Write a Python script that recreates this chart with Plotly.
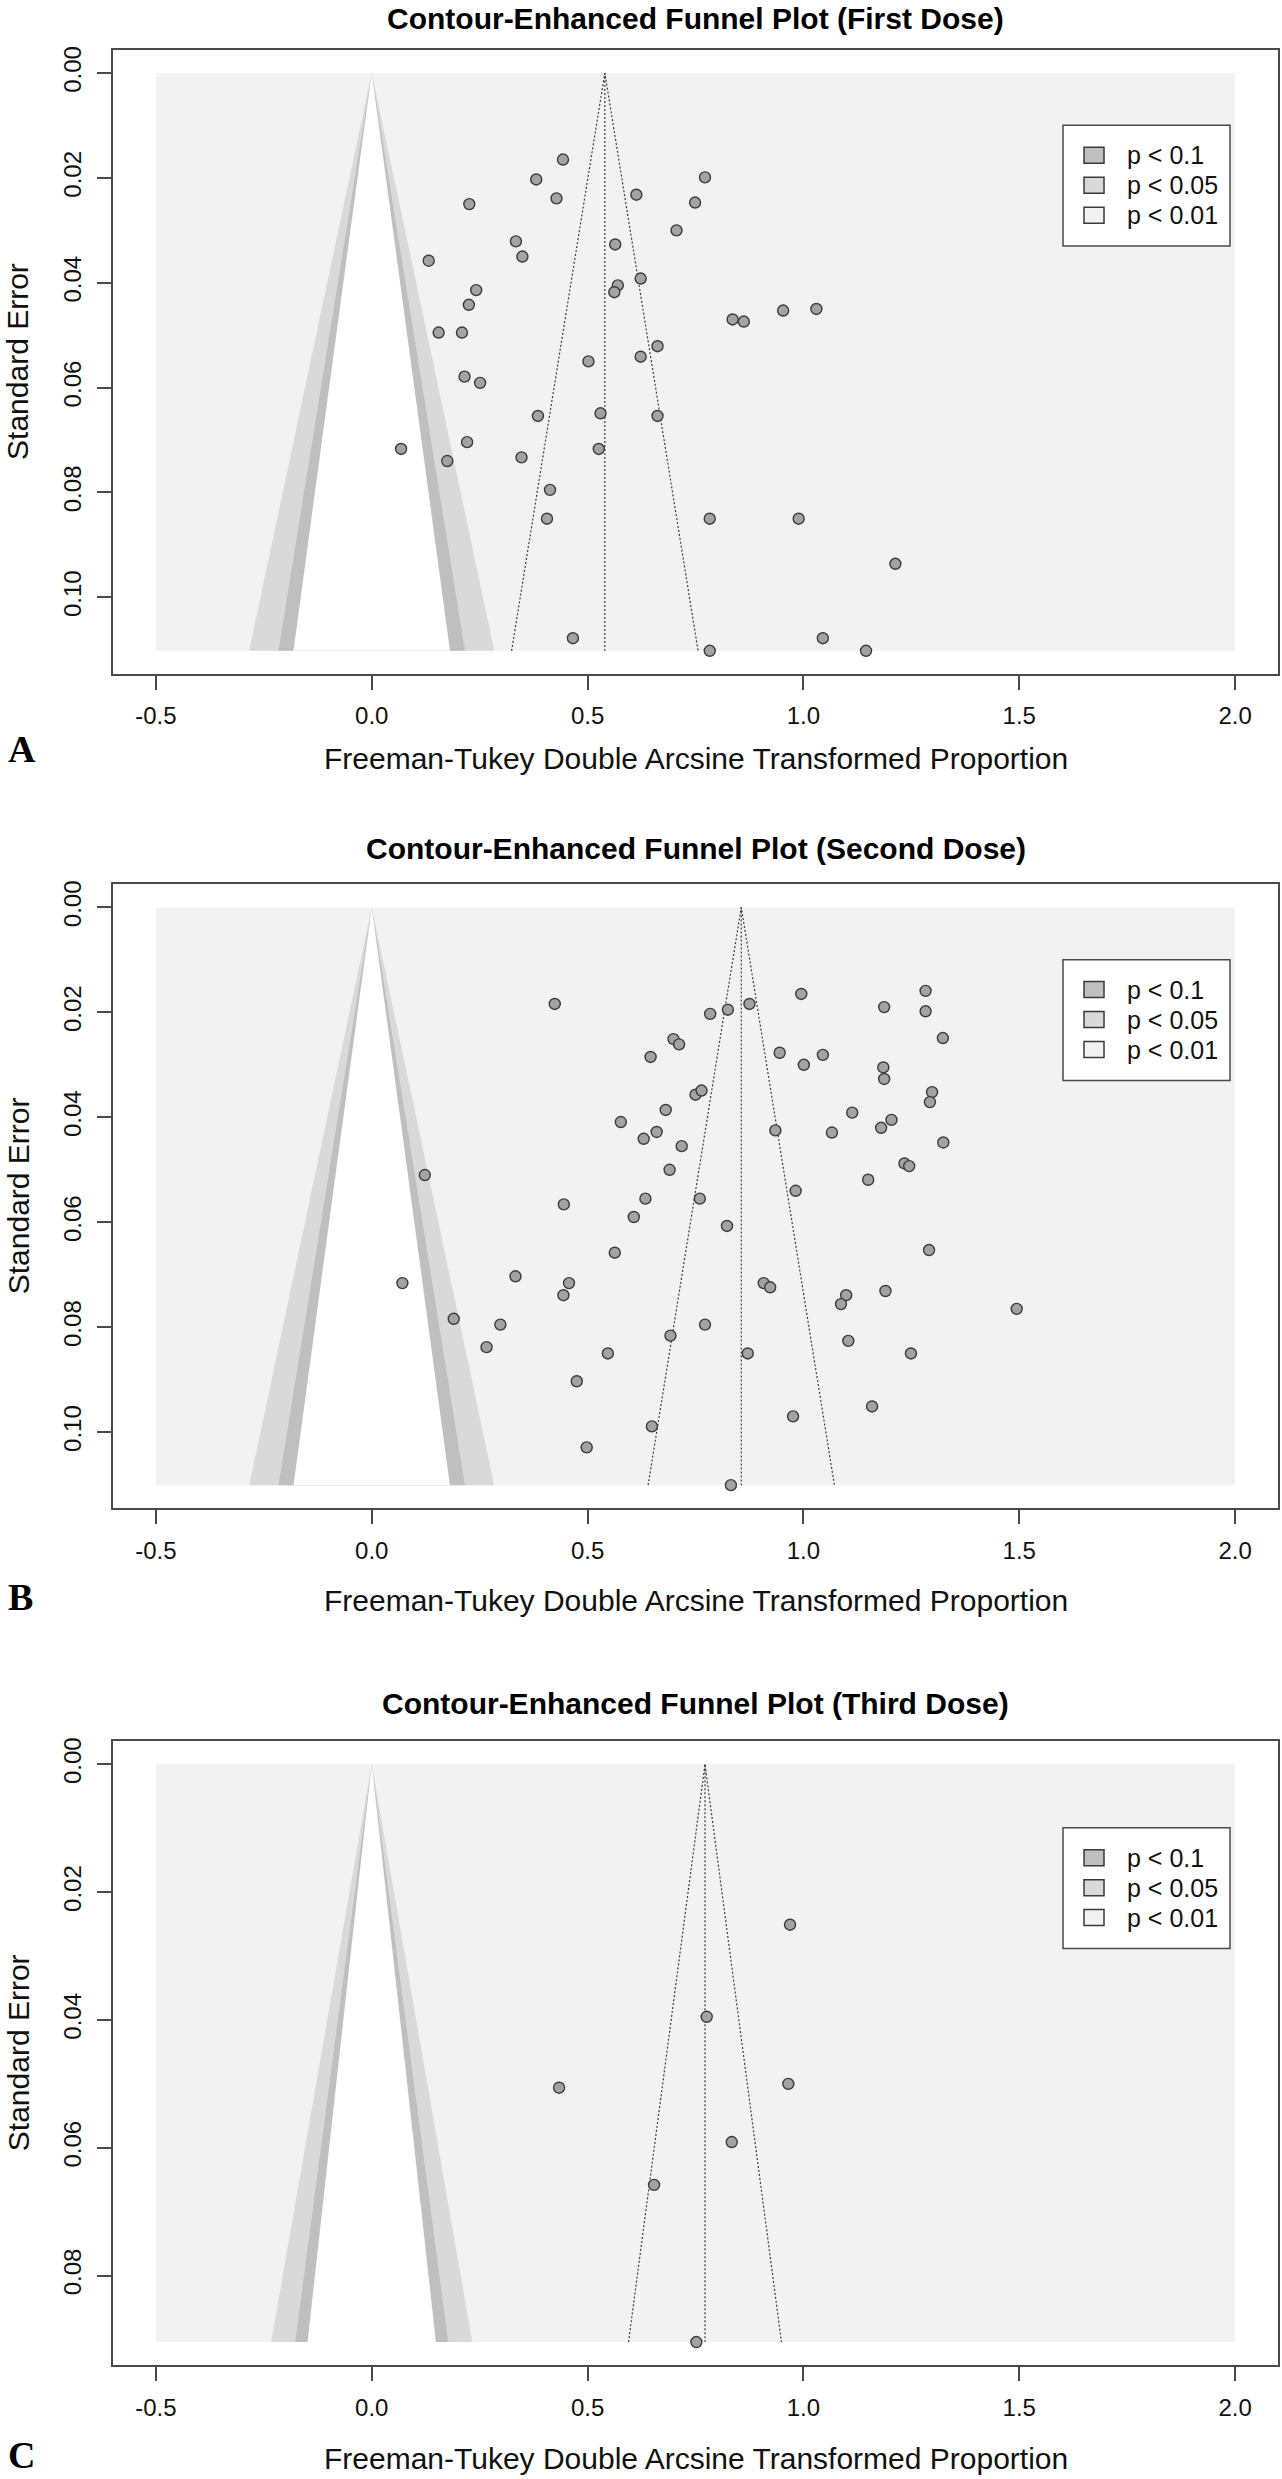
import plotly.graph_objects as go
from statistics import NormalDist

# ---------------- data ----------------
titles = ["Contour-Enhanced Funnel Plot (First Dose)",
          "Contour-Enhanced Funnel Plot (Second Dose)",
          "Contour-Enhanced Funnel Plot (Third Dose)"]
panel_letters = ["A", "B", "C"]
x_title = "Freeman-Tukey Double Arcsine Transformed Proportion"
y_title = "Standard Error"

# First dose
x_a = [0.443, 0.381, 0.772, 0.428, 0.613, 0.749, 0.226, 0.706, 0.334, 0.564,
       0.349, 0.132, 0.623, 0.570, 0.562, 0.242, 0.225, 0.953, 1.030, 0.836,
       0.862, 0.155, 0.209, 0.662, 0.502, 0.623, 0.215, 0.251, 0.385, 0.530,
       0.662, 0.068, 0.221, 0.526, 0.175, 0.347, 0.413, 0.406, 0.783, 0.989,
       1.213, 0.466, 1.045, 0.783, 1.145]
se_a = [0.0165, 0.0203, 0.0199, 0.0239, 0.0232, 0.0247, 0.0250, 0.0300, 0.0321, 0.0327,
        0.0350, 0.0358, 0.0392, 0.0405, 0.0418, 0.0414, 0.0442, 0.0453, 0.0450, 0.0470,
        0.0474, 0.0495, 0.0495, 0.0521, 0.0550, 0.0541, 0.0579, 0.0591, 0.0654, 0.0649,
        0.0654, 0.0717, 0.0704, 0.0717, 0.0740, 0.0733, 0.0795, 0.0850, 0.0850, 0.0850,
        0.0936, 0.1078, 0.1078, 0.1102, 0.1102]
te_a = 0.540

# Second dose
x_b = [0.424, 0.123, 0.445, 0.995, 0.875, 0.825, 0.784, 0.699, 0.712, 0.646,
       0.945, 1.001, 1.045, 0.750, 0.764, 0.681, 0.577, 0.660, 0.630, 0.718,
       0.935, 1.113, 1.066, 1.150, 0.690, 0.982, 0.634, 0.760,
       1.283, 1.187, 1.283, 1.323, 1.185, 1.187, 1.298, 1.293, 1.204, 1.180,
       1.324, 1.234, 1.245,
       0.607, 0.823, 0.563, 0.071, 0.333, 0.457, 0.444, 0.908, 0.923, 1.099,
       1.087, 0.190, 0.298, 0.772, 0.692, 1.104, 0.266, 0.547, 0.871, 0.475,
       0.976, 0.649, 0.498, 0.832, 1.159,
       1.291, 1.190, 1.494, 1.249]
se_b = [0.0184, 0.0510, 0.0566, 0.0165, 0.0184, 0.0195, 0.0203, 0.0251, 0.0261, 0.0285,
        0.0277, 0.0300, 0.0281, 0.0357, 0.0349, 0.0386, 0.0409, 0.0428, 0.0441, 0.0455,
        0.0425, 0.0391, 0.0429, 0.0519, 0.0500, 0.0540, 0.0555, 0.0555,
        0.0159, 0.0190, 0.0198, 0.0249, 0.0305, 0.0327, 0.0352, 0.0371, 0.0405, 0.0420,
        0.0448, 0.0488, 0.0493,
        0.0590, 0.0607, 0.0658, 0.0716, 0.0703, 0.0716, 0.0739, 0.0716, 0.0724, 0.0739,
        0.0756, 0.0784, 0.0795, 0.0795, 0.0816, 0.0826, 0.0838, 0.0850, 0.0850, 0.0903,
        0.0970, 0.0989, 0.1029, 0.1101, 0.0951,
        0.0653, 0.0731, 0.0765, 0.0850]
te_b = 0.856

# Third dose
x_c = [0.969, 0.776, 0.965, 0.834, 0.654, 0.434, 0.752]
se_c = [0.0251, 0.0395, 0.0500, 0.0591, 0.0658, 0.0506, 0.0904]
te_c = 0.772

x_ticks = [-0.5, 0.0, 0.5, 1.0, 1.5, 2.0]
x_ticklabels = ["-0.5", "0.0", "0.5", "1.0", "1.5", "2.0"]
y_ticks_ab = [0.00, 0.02, 0.04, 0.06, 0.08, 0.10]
y_ticklabels_ab = ["0.00", "0.02", "0.04", "0.06", "0.08", "0.10"]
y_ticks_c = [0.00, 0.02, 0.04, 0.06, 0.08]
y_ticklabels_c = ["0.00", "0.02", "0.04", "0.06", "0.08"]
x_limits = [-0.5, 2.0]

contour_levels = [0.90, 0.95, 0.99]
legend_labels = ["p < 0.1", "p < 0.05", "p < 0.01"]

# ---------------- style / layout ----------------
W, H = 1282, 2479
contour_colors = ["#bfbfbf", "#d9d9d9", "#f2f2f2"]
point_fill = "#a3a3a3"
dark = "#3a3a3a"
axis_col = "#4a4a4a"
FONT = "Liberation Sans, Arial, Helvetica, sans-serif"

box_left, box_right = 112.7, 1278.3
box_tops = [46.0, 881.7, 1740.0]
box_bottoms = [671.0, 1506.7, 2365.0]
title_y = [15.0, 846.0, 1702.0]
xlab_y = [756.0, 1599.0, 2458.0]
letter_y = [746.0, 1596.0, 2455.0]
legend_offset = [75.5, 75.5, 86.7]


def px(x):
    return x / W


def py(y):
    return 1 - y / H


panels = [
    (x_a, se_a, te_a, y_ticks_ab, y_ticklabels_ab),
    (x_b, se_b, te_b, y_ticks_ab, y_ticklabels_ab),
    (x_c, se_c, te_c, y_ticks_c, y_ticklabels_c),
]

z_vals = [NormalDist().inv_cdf(1 - (1 - lv) / 2) for lv in contour_levels]

fig = go.Figure()
shapes = []
annotations = []
layout_axes = {}

for i, (xs, ses, te, yt, ytl) in enumerate(panels):
    sfx = "" if i == 0 else str(i + 1)
    xa, ya = "x" + sfx, "y" + sfx
    semax = max(ses)

    # outermost background (p < 0.01 region)
    fig.add_trace(go.Scatter(
        x=[x_limits[0], x_limits[1], x_limits[1], x_limits[0], x_limits[0]],
        y=[0, 0, semax, semax, 0], fill="toself", fillcolor=contour_colors[2],
        mode="lines", line=dict(width=0), hoverinfo="skip", showlegend=False,
        xaxis=xa, yaxis=ya))
    # contour wedges, widest first
    wedge_fills = [contour_colors[1], contour_colors[0], "#ffffff"]
    for z, col in zip(sorted(z_vals, reverse=True), wedge_fills):
        fig.add_trace(go.Scatter(
            x=[-z * semax, 0, z * semax, -z * semax], y=[semax, 0, semax, semax],
            fill="toself", fillcolor=col, mode="lines", line=dict(width=0),
            hoverinfo="skip", showlegend=False, xaxis=xa, yaxis=ya))

    # pseudo confidence funnel and pooled estimate line
    z95 = NormalDist().inv_cdf(0.975)
    fig.add_trace(go.Scatter(
        x=[te - z95 * semax, te, te + z95 * semax], y=[semax, 0, semax],
        mode="lines", line=dict(color=dark, width=1.2, dash="2px,2px"),
        hoverinfo="skip", showlegend=False, xaxis=xa, yaxis=ya))
    fig.add_trace(go.Scatter(
        x=[te, te], y=[0, semax],
        mode="lines", line=dict(color=dark, width=1.2, dash="2px,2px"),
        hoverinfo="skip", showlegend=False, xaxis=xa, yaxis=ya))

    # studies
    fig.add_trace(go.Scatter(
        x=xs, y=ses, mode="markers",
        marker=dict(size=11, color=point_fill, line=dict(color=dark, width=1.4)),
        showlegend=False, xaxis=xa, yaxis=ya))

    top, bot = box_tops[i], box_bottoms[i]
    layout_axes["xaxis" + sfx] = dict(
        domain=[px(box_left), px(box_right)], anchor=ya,
        range=[x_limits[0] - 0.04 * (x_limits[1] - x_limits[0]),
               x_limits[1] + 0.04 * (x_limits[1] - x_limits[0])],
        tickmode="array", tickvals=x_ticks, ticktext=x_ticklabels,
        ticks="outside", ticklen=14, tickwidth=1.5, tickcolor=axis_col,
        showline=True, linecolor=axis_col, linewidth=1.5, mirror=True,
        showgrid=False, zeroline=False,
        tickfont=dict(family=FONT, size=24, color="#111111"),
        ticklabelstandoff=6)
    layout_axes["yaxis" + sfx] = dict(
        domain=[py(bot), py(top)], anchor=xa,
        range=[semax * 1.04, -semax * 0.04],
        tickmode="array", tickvals=yt, ticktext=ytl, tickangle=-90,
        ticks="outside", ticklen=14, tickwidth=1.5, tickcolor=axis_col,
        showline=True, linecolor=axis_col, linewidth=1.5, mirror=True,
        showgrid=False, zeroline=False,
        tickfont=dict(family=FONT, size=24, color="#111111"),
        ticklabelstandoff=6)

    cx = (box_left + box_right) / 2
    annotations.append(dict(text="<b>" + titles[i] + "</b>", x=px(cx), y=py(title_y[i]),
                            xref="paper", yref="paper", xanchor="center", yanchor="middle",
                            showarrow=False, font=dict(family=FONT, size=30, color="#000000")))
    annotations.append(dict(text=x_title, x=px(cx), y=py(xlab_y[i]),
                            xref="paper", yref="paper", xanchor="center", yanchor="middle",
                            showarrow=False, font=dict(family=FONT, size=30, color="#111111")))
    annotations.append(dict(text=y_title, x=px(18), y=py((top + bot) / 2), textangle=-90,
                            xref="paper", yref="paper", xanchor="center", yanchor="middle",
                            showarrow=False, font=dict(family=FONT, size=30, color="#111111")))
    annotations.append(dict(text="<b>" + panel_letters[i] + "</b>", x=px(6), y=py(letter_y[i]),
                            xref="paper", yref="paper", xanchor="left", yanchor="middle",
                            showarrow=False,
                            font=dict(family="Liberation Serif, Times New Roman, serif",
                                      size=38, color="#000000")))

    # legend (drawn)
    lt = top + legend_offset[i]
    shapes.append(dict(type="rect", xref="paper", yref="paper",
                       x0=px(1063), x1=px(1230), y0=py(lt + 121), y1=py(lt),
                       line=dict(color=axis_col, width=1.5), fillcolor="#ffffff", layer="above"))
    for k, (lab, col) in enumerate(zip(legend_labels, contour_colors)):
        rc = lt + 30 + 30 * k
        shapes.append(dict(type="rect", xref="paper", yref="paper",
                           x0=px(1084), x1=px(1104), y0=py(rc + 8), y1=py(rc - 8),
                           line=dict(color=dark, width=1.5), fillcolor=col, layer="above"))
        annotations.append(dict(text=lab, x=px(1125), y=py(rc), xref="paper", yref="paper",
                                xanchor="left", yanchor="middle", showarrow=False,
                                font=dict(family=FONT, size=25, color="#111111")))

fig.update_layout(
    width=W, height=H, margin=dict(l=0, r=0, t=0, b=0),
    paper_bgcolor="#ffffff", plot_bgcolor="#ffffff",
    showlegend=False, shapes=shapes, annotations=annotations,
    **layout_axes)

fig.write_html("out.html", config={"displayModeBar": False},
               post_script="document.body.style.margin='0';document.body.style.padding='0';")
